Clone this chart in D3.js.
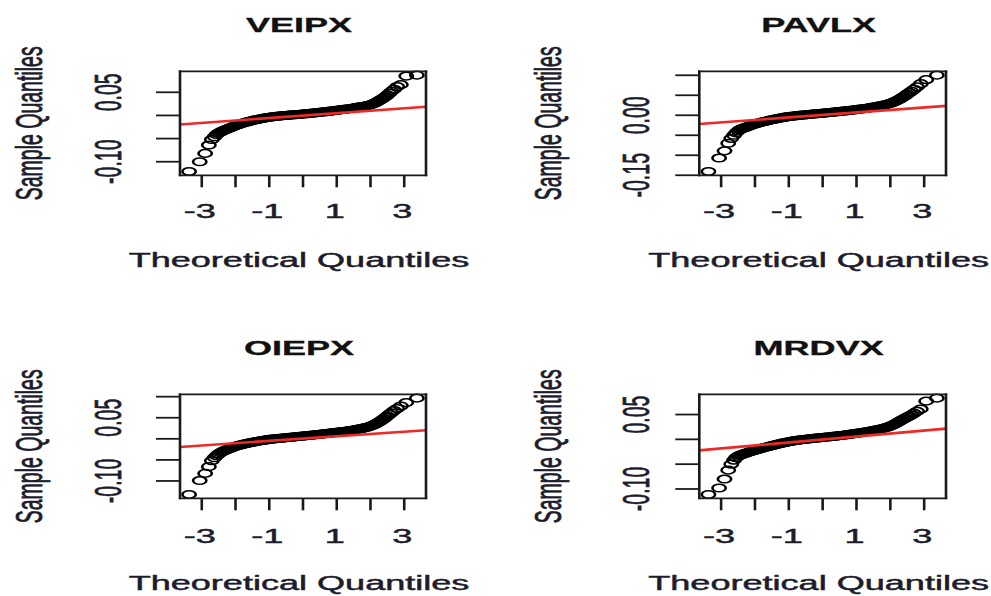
<!DOCTYPE html>
<html>
<head>
<meta charset="utf-8">
<script src="https://cdn.jsdelivr.net/npm/d3@7"></script>
<style>
  body { margin: 0; background: #ffffff; }
  svg { display: block; }
  text { font-family: "Liberation Sans", Arial, sans-serif; fill: #1c1c2c; stroke: #1c1c2c; stroke-width: 0.45; }
</style>
</head>
<body>
<svg id="chart" width="991" height="596"></svg>
<script>
// Normal Q-Q plots of daily returns for four funds.
const funds = ["VEIPX", "PAVLX", "OIEPX", "MRDVX"];

// Theoretical normal quantiles (shared by all four panels)
const theoretical = [
  -3.375, -3.06, -2.90, -2.79, -2.70, -2.62, -2.56, -2.50, -2.45, -2.40,
  -2.35, -2.30, -2.25, -2.20, -2.15, -2.10, -2.05, -2.00, -1.95, -1.90,
  -1.85, -1.80, -1.75, -1.70, -1.65, -1.60, -1.55, -1.50, -1.45, -1.40,
  -1.35, -1.30, -1.25, -1.20, -1.15, -1.10, -1.05, -1.00, -0.95, -0.90,
  -0.85, -0.80, -0.75, -0.70, -0.65, -0.60, -0.55, -0.50, -0.45, -0.40,
  -0.35, -0.30, -0.25, -0.20, -0.15, -0.10, -0.05, 0.00, 0.05, 0.10,
  0.15, 0.20, 0.25, 0.30, 0.35, 0.40, 0.45, 0.50, 0.55, 0.60,
  0.65, 0.70, 0.75, 0.80, 0.85, 0.90, 0.95, 1.00, 1.05, 1.10,
  1.15, 1.20, 1.25, 1.30, 1.35, 1.40, 1.45, 1.50, 1.55, 1.60,
  1.65, 1.70, 1.75, 1.80, 1.85, 1.90, 1.95, 2.00, 2.05, 2.10,
  2.15, 2.20, 2.25, 2.30, 2.35,
  2.40, 2.45, 2.50, 2.56, 2.62, 2.70, 2.79, 2.90, 3.06, 3.375
];

// Sample quantiles (sorted returns) for each fund
const sampleVEIPX = [
  -0.121, -0.100, -0.082, -0.064, -0.052, -0.046, -0.041, -0.038, -0.036, -0.034,
  -0.0325, -0.0310, -0.0295, -0.0280, -0.0265, -0.0250, -0.0235, -0.0220, -0.0207, -0.0195,
  -0.0182, -0.0170, -0.0160, -0.0150, -0.0140, -0.0130, -0.0120, -0.0110, -0.0102, -0.0095,
  -0.0087, -0.0080, -0.0072, -0.0065, -0.0058, -0.0052, -0.0046, -0.0040, -0.0035, -0.0030,
  -0.0025, -0.0021, -0.0017, -0.0013, -0.0009, -0.0006, -0.0003, 0.0000, 0.0003, 0.0006,
  0.0009, 0.0012, 0.0015, 0.0018, 0.0021, 0.0024, 0.0027, 0.0030, 0.0033, 0.0037,
  0.0040, 0.0044, 0.0047, 0.0051, 0.0055, 0.0059, 0.0063, 0.0067, 0.0071, 0.0075,
  0.0079, 0.0083, 0.0087, 0.0092, 0.0096, 0.0101, 0.0105, 0.0110, 0.0115, 0.0120,
  0.0125, 0.0130, 0.0135, 0.0140, 0.0145, 0.0151, 0.0156, 0.0162, 0.0168, 0.0174,
  0.0180, 0.0186, 0.0192, 0.0198, 0.0205, 0.0212, 0.0221, 0.0232, 0.0244, 0.0258,
  0.0275, 0.0295, 0.0317, 0.0340, 0.0362,
  0.0385, 0.0410, 0.0440, 0.0480, 0.0520, 0.0565, 0.0625, 0.0665, 0.0850, 0.0870
];
const samplePAVLX = [
  -0.1405, -0.107, -0.089, -0.070, -0.058, -0.050, -0.044, -0.039, -0.036, -0.034,
  -0.0325, -0.0310, -0.0295, -0.0280, -0.0264, -0.0248, -0.0234, -0.0220, -0.0207, -0.0195,
  -0.0183, -0.0172, -0.0162, -0.0152, -0.0142, -0.0132, -0.0122, -0.0113, -0.0104, -0.0095,
  -0.0086, -0.0078, -0.0070, -0.0062, -0.0054, -0.0047, -0.0040, -0.0034, -0.0028, -0.0023,
  -0.0018, -0.0013, -0.0008, -0.0004, 0.0000, 0.0004, 0.0008, 0.0012, 0.0016, 0.0020,
  0.0024, 0.0028, 0.0032, 0.0036, 0.0040, 0.0044, 0.0048, 0.0052, 0.0056, 0.0060,
  0.0064, 0.0068, 0.0072, 0.0077, 0.0081, 0.0086, 0.0090, 0.0095, 0.0099, 0.0104,
  0.0108, 0.0113, 0.0117, 0.0122, 0.0127, 0.0132, 0.0137, 0.0142, 0.0147, 0.0153,
  0.0158, 0.0164, 0.0170, 0.0176, 0.0183, 0.0190, 0.0197, 0.0205, 0.0212, 0.0220,
  0.0228, 0.0236, 0.0244, 0.0253, 0.0262, 0.0272, 0.0284, 0.0298, 0.0313, 0.0330,
  0.0349, 0.0370, 0.0392, 0.0415, 0.0442,
  0.0470, 0.0495, 0.0530, 0.0565, 0.0600, 0.0650, 0.0710, 0.0790, 0.0890, 0.1003
];
const sampleOIEPX = [
  -0.132, -0.099, -0.082, -0.066, -0.052, -0.045, -0.040, -0.036, -0.033, -0.031,
  -0.0290, -0.0270, -0.0255, -0.0240, -0.0224, -0.0208, -0.0194, -0.0180, -0.0168, -0.0156,
  -0.0145, -0.0135, -0.0125, -0.0116, -0.0107, -0.0098, -0.0090, -0.0082, -0.0074, -0.0067,
  -0.0060, -0.0053, -0.0046, -0.0040, -0.0033, -0.0026, -0.0020, -0.0014, -0.0009, -0.0005,
  -0.0001, 0.0003, 0.0007, 0.0011, 0.0014, 0.0018, 0.0022, 0.0026, 0.0030, 0.0034,
  0.0038, 0.0042, 0.0046, 0.0050, 0.0054, 0.0058, 0.0062, 0.0066, 0.0070, 0.0074,
  0.0078, 0.0082, 0.0086, 0.0090, 0.0095, 0.0099, 0.0104, 0.0108, 0.0113, 0.0117,
  0.0122, 0.0126, 0.0131, 0.0135, 0.0140, 0.0144, 0.0149, 0.0154, 0.0159, 0.0164,
  0.0169, 0.0174, 0.0180, 0.0185, 0.0191, 0.0197, 0.0203, 0.0210, 0.0217, 0.0224,
  0.0231, 0.0239, 0.0247, 0.0256, 0.0266, 0.0276, 0.0288, 0.0302, 0.0317, 0.0333,
  0.0353, 0.0375, 0.0400, 0.0425, 0.0452,
  0.0478, 0.0510, 0.0545, 0.0585, 0.0620, 0.0670, 0.0720, 0.0780, 0.0860, 0.0965
];
const sampleMRDVX = [
  -0.111, -0.098, -0.080, -0.062, -0.050, -0.042, -0.037, -0.034, -0.032, -0.031,
  -0.0297, -0.0285, -0.0274, -0.0263, -0.0251, -0.0240, -0.0229, -0.0218, -0.0208, -0.0198,
  -0.0189, -0.0180, -0.0171, -0.0162, -0.0153, -0.0145, -0.0136, -0.0128, -0.0119, -0.0110,
  -0.0101, -0.0093, -0.0085, -0.0077, -0.0069, -0.0062, -0.0055, -0.0048, -0.0042, -0.0036,
  -0.0030, -0.0025, -0.0020, -0.0015, -0.0010, -0.0006, -0.0002, 0.0002, 0.0006, 0.0010,
  0.0013, 0.0017, 0.0020, 0.0024, 0.0027, 0.0031, 0.0034, 0.0038, 0.0041, 0.0045,
  0.0048, 0.0052, 0.0055, 0.0059, 0.0063, 0.0067, 0.0071, 0.0075, 0.0079, 0.0083,
  0.0087, 0.0092, 0.0096, 0.0101, 0.0106, 0.0111, 0.0116, 0.0121, 0.0126, 0.0131,
  0.0136, 0.0142, 0.0147, 0.0153, 0.0159, 0.0165, 0.0171, 0.0178, 0.0185, 0.0192,
  0.0199, 0.0207, 0.0215, 0.0224, 0.0234, 0.0244, 0.0255, 0.0268, 0.0282, 0.0297,
  0.0315, 0.0335, 0.0355, 0.0375, 0.0395,
  0.0412, 0.0430, 0.0450, 0.0470, 0.0490, 0.0525, 0.0565, 0.0610, 0.0770, 0.0830
];
const samples = [sampleVEIPX, samplePAVLX, sampleOIEPX, sampleMRDVX];

// Reference lines (intercept, slope) for each panel
const lineIntercept = [-0.0004, 0.0008, 0.0006, -0.0003];
const lineSlope = [0.00527, 0.0062, 0.00546, 0.0060];

// Axis ticks and the subset that carries labels
const xTicks = [-3, -2, -1, 0, 1, 2, 3];
const xTickLabels = ["-3", "-1", "1", "3"];
const yTicks = [
  [-0.10, -0.05, 0.00, 0.05],
  [-0.15, -0.10, -0.05, 0.00, 0.05, 0.10],
  [-0.10, -0.05, 0.00, 0.05, 0.10],
  [-0.10, -0.05, 0.00, 0.05]
];
const yTickLabels = [
  ["-0.10", "0.05"],
  ["-0.15", "0.00"],
  ["-0.10", "0.05"],
  ["-0.10", "0.05"]
];

// ---- layout ----
const SX = 1.85;            // horizontal stretch of the device (text)
const MX = 1.75;            // horizontal stretch of the point symbols
const FONT = 19.5;
const cols = [{x0: 180, x1: 426, ylabX: 41.7, ytlX: 120.5}, {x0: 699.3, x1: 946, ylabX: 560.5, ytlX: 648.5}];
const rows = [{y0: 71.3, y1: 175.3, titleY: 32, tickLabY: 218, xlabY: 267},
              {y0: 394.3, y1: 498.3, titleY: 355, tickLabY: 543, xlabY: 590}];

const svg = d3.select("#chart");

// R-style range: data extent widened by 4% on each side
function padded(ext) {
  const r = ext[1] - ext[0];
  return [ext[0] - 0.04 * r, ext[1] + 0.04 * r];
}

function hText(g, x, y, str, opts = {}) {
  return g.append("text")
    .attr("transform", `translate(${x},${y}) scale(${SX},1)`)
    .attr("text-anchor", "middle")
    .attr("font-size", opts.size || FONT)
    .attr("font-weight", opts.weight || "normal")
    .style("fill", opts.fill || null)
    .style("stroke", opts.fill || null)
    .style("stroke-width", opts.sw != null ? opts.sw : null)
    .text(str);
}
function vText(g, x, y, str) {
  return g.append("text")
    .attr("transform", `translate(${x},${y}) scale(${SX},1) rotate(-90)`)
    .attr("text-anchor", "middle")
    .attr("font-size", FONT)
    .text(str);
}

funds.forEach((name, i) => {
  const col = cols[i % 2], row = rows[Math.floor(i / 2)];
  const g = svg.append("g");
  const vals = samples[i];

  const x = d3.scaleLinear().domain(padded(d3.extent(theoretical))).range([col.x0, col.x1]);
  const y = d3.scaleLinear().domain(padded(d3.extent(vals))).range([row.y1, row.y0]);

  // points (open circles, stretched with the device)
  g.append("g").selectAll("circle")
    .data(theoretical.map((t, k) => [t, vals[k]]))
    .join("circle")
    .attr("transform", d => `translate(${x(d[0])},${y(d[1])}) scale(${MX},1)`)
    .attr("r", 3.8)
    .attr("fill", "none")
    .attr("stroke", "#000")
    .attr("stroke-width", 1.5);

  // reference line across the plotting region
  const [d0, d1] = x.domain();
  g.append("line")
    .attr("x1", x(d0)).attr("y1", y(lineIntercept[i] + lineSlope[i] * d0))
    .attr("x2", x(d1)).attr("y2", y(lineIntercept[i] + lineSlope[i] * d1))
    .attr("stroke", "#ec2a26")
    .attr("stroke-width", 2.6);

  // box
  const boxColor = "#1a1a1a";
  [[col.x0, row.y0, col.x1, row.y0], [col.x0, row.y1, col.x1, row.y1]].forEach(c =>
    g.append("line").attr("x1", c[0] - 1.2).attr("y1", c[1]).attr("x2", c[2] + 1.2).attr("y2", c[3])
      .attr("stroke", boxColor).attr("stroke-width", 1.8));
  [[col.x0, row.y0, col.x0, row.y1], [col.x1, row.y0, col.x1, row.y1]].forEach(c =>
    g.append("line").attr("x1", c[0]).attr("y1", c[1] - 0.9).attr("x2", c[2]).attr("y2", c[3] + 0.9)
      .attr("stroke", boxColor).attr("stroke-width", 2.6));

  // x axis ticks and labels
  xTicks.forEach(t => {
    g.append("line")
      .attr("x1", x(t)).attr("x2", x(t))
      .attr("y1", row.y1).attr("y2", row.y1 + 12)
      .attr("stroke", boxColor).attr("stroke-width", 2.6);
  });
  xTickLabels.forEach(lbl => hText(g, x(+lbl) - 2, row.tickLabY, lbl));

  // y axis ticks and labels
  yTicks[i].forEach(v => {
    g.append("line")
      .attr("x1", col.x0 - 24).attr("x2", col.x0)
      .attr("y1", y(v)).attr("y2", y(v))
      .attr("stroke", boxColor).attr("stroke-width", 1.8);
  });
  yTickLabels[i].forEach(lbl => vText(g, col.ytlX, y(+lbl), lbl));

  // titles and axis labels
  const cx = (col.x0 + col.x1) / 2 - 4;
  hText(g, cx, row.titleY, name, {weight: "bold", fill: "#111", sw: 0.3});
  hText(g, cx, row.xlabY, "Theoretical Quantiles");
  vText(g, col.ylabX, (row.y0 + row.y1) / 2, "Sample Quantiles");
});
</script>
</body>
</html>
